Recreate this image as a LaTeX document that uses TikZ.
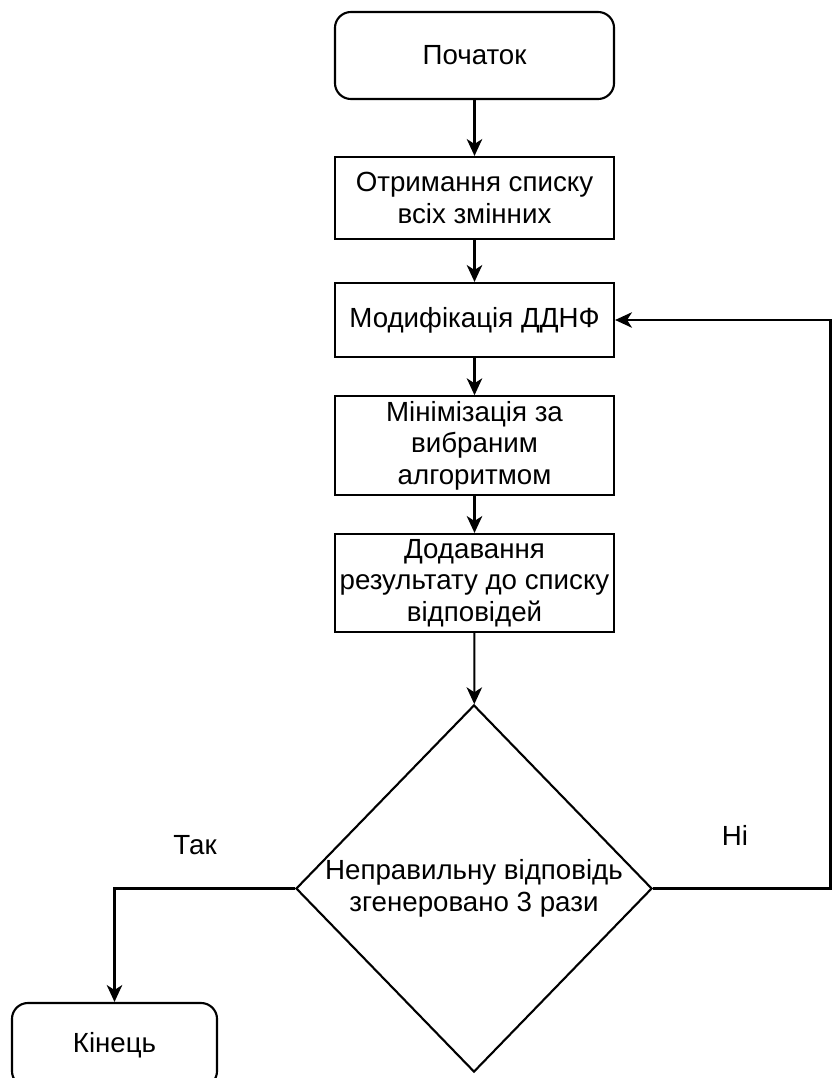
\documentclass[tikz,border=0pt]{standalone}
\usepackage{fontspec}
\setmainfont{Liberation Sans}
\usetikzlibrary{shapes.geometric,arrows.meta}
\tikzset{
  base/.style={draw, line width=1.5pt, align=center, font=\fontsize{19.7}{22.5}\selectfont},
  term/.style={base, rounded corners=0.4cm, minimum width=6.975cm},
  proc/.style={base, minimum width=6.975cm},
  cond/.style={base, diamond, minimum width=8.9cm, minimum height=9.175cm, inner sep=0pt},
  lbl/.style={font=\fontsize{19.7}{22.5}\selectfont},
  flow/.style={line width=1.5pt, -{Stealth[length=12pt,width=11pt,inset=3.5pt]}},
}
\begin{document}
\begin{tikzpicture}[x=0.025cm, y=-0.025cm]
  \useasboundingbox (0,0) rectangle (831,1078);
  \node[term, minimum height=2.175cm] (start) at (474.5,55.5) {Початок};
  \node[proc, minimum height=2.05cm] (vars) at (474.5,198) {Отримання списку\\всіх змінних};
  \node[proc, minimum height=1.85cm] (modify) at (474.5,320) {Модифікація ДДНФ};
  \node[proc, minimum height=2.375cm] (minim) at (474.5,445.5) {Мінімізація за\\вибраним\\алгоритмом};
  \node[proc, minimum height=2.45cm] (append) at (474.5,583) {Додавання\\результату до списку\\відповідей};
  \node[cond] (check) at (474,888.5) {Неправильну відповідь\\згенеровано 3 рази};
  \node[term, minimum width=5.125cm, minimum height=2.1cm] (finish) at (114.5,1045) {Кінець};
  \node[lbl] (yes) at (195,845) {Так};
  \node[lbl] (no) at (735,835) {Ні};
  \coordinate (back) at (830.5,320);
  \draw[flow] (start) -- (vars);
  \draw[flow] (vars) -- (modify);
  \draw[flow] (modify) -- (minim);
  \draw[flow] (minim) -- (append);
  \draw[flow] (append) -- (check);
  \draw[flow] (check.west) -| (finish.north);
  \draw[flow] (check.east) -| (back) -- (modify.east);
\end{tikzpicture}
\end{document}
